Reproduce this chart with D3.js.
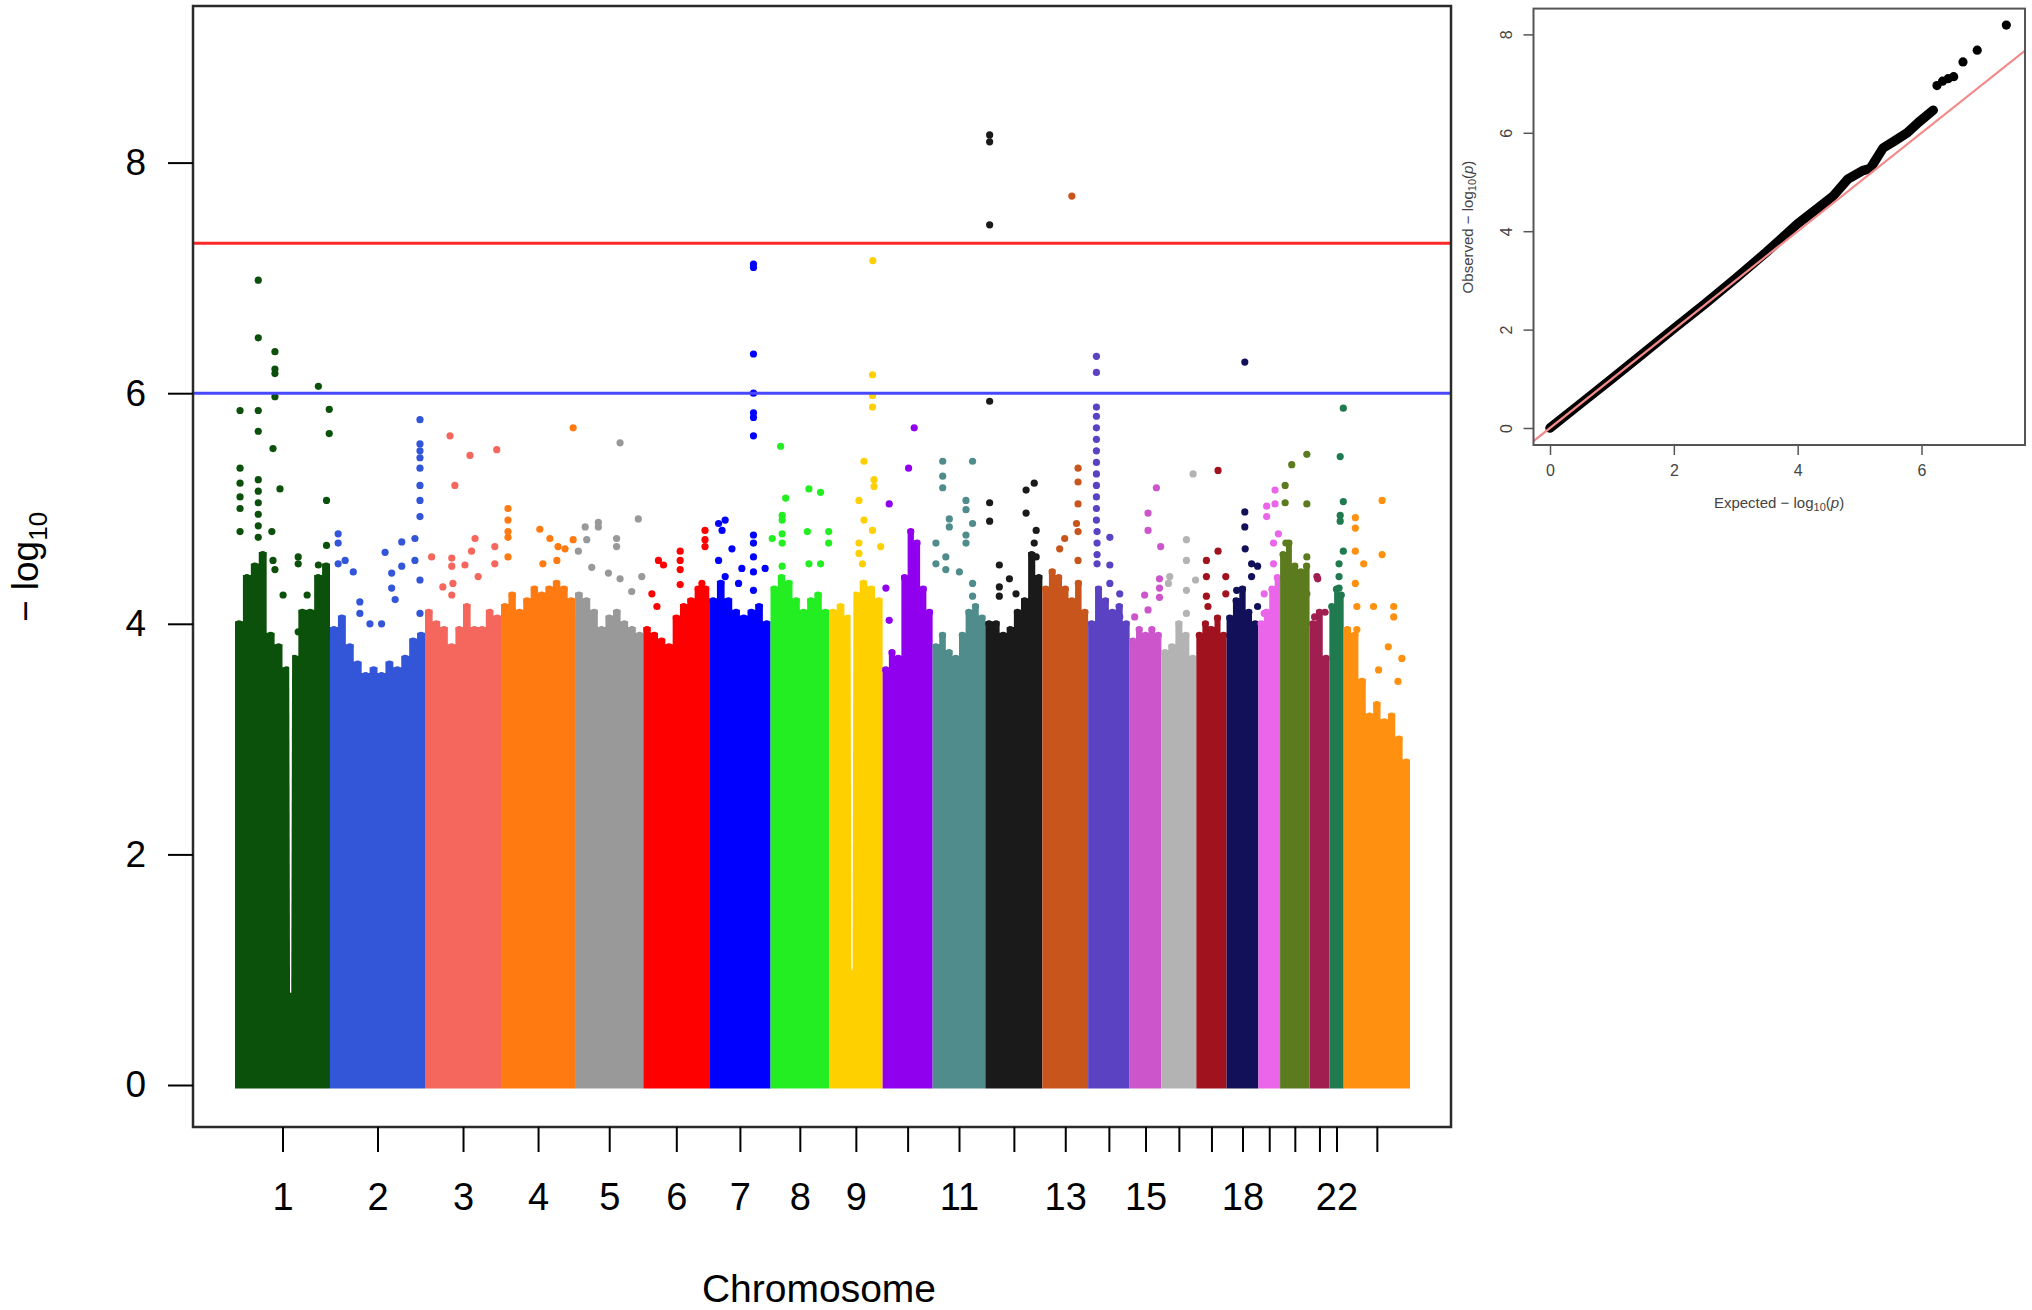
<!DOCTYPE html>
<html>
<head>
<meta charset="utf-8">
<script src="https://cdnjs.cloudflare.com/ajax/libs/d3/7.8.5/d3.min.js"></script>
<style>
  body { margin: 0; background: #fff; }
  svg { display: block; font-family: "Liberation Sans", Arial, sans-serif; }
</style>
</head>
<body>
<div class="chart"></div>
<script>
// chromosomes 1..22 + X (drawn as 23)
var chromNames = ["1","2","3","4","5","6","7","8","9","10","11","12","13","14","15","16","17","18","19","20","21","22","23"];
var chromLabels = ["1","2","3","4","5","6","7","8","9","","11","","13","","15","","","18","","","","22",""];
// plotted span of each chromosome, Mb
var chromSpan = [245,245,196,191,176,170,158,151,138,129,136,147,118,107,82,90,78,82,56,76,51,37,171];
var chromColor = ["#0b500b","#3355d8","#f5665c","#ff7a10","#999999","#ff0000","#0000ff","#22ee22",
                  "#ffd000","#9000ee","#4f8c8b","#1a1a1a","#c8561c","#5a42c2","#cc55cc","#b3b3b3",
                  "#a0121e","#13105a","#ea65ea","#5b7b1e","#a01e50","#207a50","#ff9010"];

// top of the dense band of SNPs, -log10(p), evenly spaced along each chromosome
var bandTop = [
  [4.0,4.4,4.5,4.6,3.9,3.8,3.6,3.7,4.1,4.1,4.4,4.5],
  [3.95,4.05,3.8,3.65,3.55,3.6,3.55,3.65,3.6,3.7,3.85,3.9],
  [4.1,4.0,3.95,3.8,3.95,4.15,3.95,3.95,4.1,4.05],
  [4.15,4.25,4.1,4.2,4.3,4.25,4.3,4.35,4.3,4.2],
  [4.25,4.2,4.1,3.95,4.05,4.1,4.0,3.95,3.9],
  [3.95,3.9,3.85,3.8,4.05,4.15,4.2,4.3,4.3],
  [4.2,4.35,4.2,4.1,4.05,4.1,4.15,4.0],
  [4.3,4.4,4.35,4.2,4.1,4.2,4.25,4.1],
  [4.1,4.15,4.05,4.25,4.35,4.3,4.2],
  [3.6,3.75,3.7,4.4,4.8,4.7,4.3,4.1],
  [3.8,3.9,3.75,3.7,3.9,4.1,4.15,4.05],
  [4.0,4.0,3.9,3.95,4.1,4.2,4.6,4.4],
  [4.3,4.45,4.4,4.3,4.2,4.35,4.1],
  [4.0,4.3,4.2,4.1,4.15,4.0],
  [3.85,3.95,3.9,3.95,3.9],
  [3.75,3.8,4.0,3.9,3.7],
  [3.9,4.0,3.95,4.05,3.9],
  [4.05,4.2,4.3,4.1,4.0],
  [4.0,4.1,4.3,4.4],
  [4.6,4.7,4.5,4.45,4.5],
  [4.0,4.1,3.7],
  [4.15,4.3,4.25],
  [3.95,3.9,3.5,3.2,3.3,3.15,3.2,3.0,2.8]
];

// centromere gaps without SNPs: [chromosome, start Mb, end Mb, lowest -log10(p) reached]
var bandGaps = [[1,139,148,0.8],[9,55,63,1.0]];

// SNPs standing out of the band: [chromosome, position in Mb, -log10(p)]
var topSnps = [
  [1,60,6.98],[1,60,6.48],[1,103,6.36],[1,103,6.21],[1,103,6.17],[1,103,5.97],[1,215,6.06],[1,13,5.85],
  [1,60,5.85],[1,243,5.86],[1,60,5.67],[1,243,5.65],[1,98,5.52],[1,13,5.35],[1,116,5.17],[1,236,5.07],
  [1,13,5.22],[1,13,5.1],[1,13,5.0],[1,60,5.25],[1,60,5.15],[1,60,5.05],[1,60,4.95],[1,60,4.85],[1,60,4.75],
  [1,13,4.8],[1,95,4.8],[1,236,4.68],[1,163,4.58],[1,163,4.52],[1,215,4.51],[1,98,4.55],[1,103,4.47],
  [1,124,4.25],[1,186,4.25],[1,215,4.23],[1,163,3.93],
  [2,21,4.78],[2,21,4.7],[2,21,4.52],[2,39,4.55],[2,60,4.45],[2,77,4.19],[2,77,4.09],[2,142,4.62],
  [2,185,4.71],[2,185,4.5],[2,159,4.44],[2,159,4.31],[2,168,4.21],[2,219,4.74],[2,219,4.55],[2,232,5.77],
  [2,232,5.56],[2,232,5.5],[2,232,5.44],[2,232,5.35],[2,232,5.2],[2,232,5.07],[2,232,4.93],[2,232,4.38],
  [2,232,4.09],[2,103,4.0],[2,133,4.0],
  [3,64.5,5.63],[3,116,5.46],[3,185,5.51],[3,77,5.2],[3,129,4.74],[3,17,4.58],[3,69,4.57],[3,69,4.5],
  [3,120,4.63],[3,103,4.51],[3,180,4.67],[3,180,4.52],[3,46,4.32],[3,72,4.35],[3,69,4.25],[3,137,4.41],
  [4,18,5.0],[4,18,4.9],[4,18,4.8],[4,18,4.75],[4,18,4.58],[4,186,5.70],[4,100,4.82],[4,126,4.74],
  [4,147,4.67],[4,186,4.73],[4,165,4.65],[4,144,4.55],[4,108,4.52],
  [5,116,5.57],[5,26,4.84],[5,60,4.88],[5,60,4.84],[5,163,4.91],[5,30,4.73],[5,107,4.74],[5,107,4.67],
  [5,43,4.49],[5,86,4.44],[5,116,4.39],[5,172,4.41],[5,8.5,4.63],[5,146,4.28],
  [6,159,4.81],[6,159,4.73],[6,159,4.67],[6,95,4.63],[6,95,4.55],[6,95,4.47],[6,95,4.34],[6,39,4.55],
  [6,52,4.51],[6,151,4.35],[6,22,4.26],[6,35,4.15],
  [7,114,7.12],[7,114,7.09],[7,114,6.34],[7,114,6.0],[7,114,5.83],[7,114,5.79],[7,114,5.63],[7,41,4.9],
  [7,24,4.87],[7,33,4.81],[7,58.5,4.65],[7,114,4.77],[7,114,4.7],[7,114,4.58],[7,114,4.45],[7,114,4.29],
  [7,84,4.48],[7,144,4.48],[7,24,4.55],[7,41,4.41],[7,75.5,4.35],
  [8,26,5.54],[8,99,5.17],[8,129,5.14],[8,39,5.09],[8,30,4.94],[8,30,4.9],[8,30,4.78],[8,30,4.7],
  [8,95,4.8],[8,99,4.52],[8,4.4,4.74],[8,30,4.5],[8,129,4.52],[8,150,4.8],[8,150,4.7],
  [9,112.7,7.15],[9,112,6.16],[9,112,5.98],[9,112,5.88],[9,90,5.41],[9,116,5.25],[9,116,5.19],[9,77,5.07],
  [9,90,4.9],[9,112,4.81],[9,77,4.7],[9,77,4.61],[9,133,4.67],[9,86,4.52],
  [10,81.5,5.70],[10,67,5.35],[10,17,5.04],[10,8.5,4.31],[10,17,4.03],
  [11,26,5.41],[11,103,5.41],[11,26,5.28],[11,26,5.18],[11,86,5.07],[11,86,4.99],[11,103,4.87],[11,43,4.91],
  [11,43,4.84],[11,8.5,4.7],[11,86,4.77],[11,86,4.7],[11,8.5,4.52],[11,34,4.58],[11,34,4.47],[11,69,4.45],
  [11,103,4.35],[11,103,4.24],
  [12,11,8.24],[12,11,8.18],[12,11,7.46],[12,11,5.93],[12,11,5.05],[12,11,4.89],[12,126,5.22],[12,105,5.16],
  [12,105,4.96],[12,131,4.81],[12,131,4.58],[12,126,4.7],[12,36,4.51],[12,62,4.39],[12,36,4.32],[12,36,4.24],
  [12,79,4.26],
  [13,76,7.71],[13,92,5.35],[13,92,5.23],[13,92,5.04],[13,88,4.87],[13,57.5,4.74],[13,92,4.8],[13,92,4.55],
  [13,44.6,4.65],
  [14,21.4,6.32],[14,21.4,6.18],[14,21.4,5.88],[14,21.4,5.8],[14,21.4,5.7],[14,21.4,5.6],[14,21.4,5.5],
  [14,21.4,5.4],[14,21.4,5.3],[14,21.4,5.2],[14,21.4,5.1],[14,21.4,5.0],[14,21.4,4.9],[14,23,4.8],[14,23,4.7],
  [14,23,4.6],[14,23,4.52],[14,56,4.75],[14,56,4.51],[14,56,4.35],[14,81.5,4.26],[14,81.5,4.06],
  [15,69,5.18],[15,47.5,4.96],[15,47.5,4.81],[15,80,4.67],[15,77,4.39],[15,77,4.31],[15,38.7,4.25],
  [15,47.5,4.12],[15,13,4.06],[15,77,4.23],
  [16,81.7,5.30],[16,64.5,4.73],[16,64.5,4.55],[16,21.4,4.41],[16,18,4.35],[16,64.5,4.29],[16,64.5,4.09],
  [16,88,4.38],
  [17,56,5.33],[17,56,4.63],[17,26,4.55],[17,26,4.41],[17,26,4.24],[17,76,4.41],[17,76,4.26],[17,30,4.15],
  [17,30,3.95],
  [18,47,6.27],[18,47,4.97],[18,47,4.84],[18,48,4.65],[18,64.5,4.52],[18,64.5,4.41],[18,80,4.5],[18,26,4.29],
  [18,80,4.15],
  [19,43,5.16],[19,43,5.04],[19,21.4,5.02],[19,21.4,4.93],[19,51.6,4.78],[19,39,4.7],[19,39,4.52],
  [19,15,4.26],[19,15,4.09],
  [20,69,5.47],[20,30,5.38],[20,13,5.2],[20,13,5.05],[20,69,5.04],[20,15,4.7],[20,15,4.52],[20,69,4.58],
  [20,69,4.26],[20,43,4.26],
  [21,19,4.41],[21,21,4.39],[21,40,4.1],[21,13,4.06],
  [22,36,5.87],[22,28,5.45],[22,36,5.06],[22,28,4.94],[22,28,4.89],[22,36,4.63],[22,25,4.52],[22,25,4.41],
  [22,25,4.31],
  [23,99,5.07],[23,30,4.92],[23,30,4.83],[23,99,4.6],[23,30,4.63],[23,30,4.35],[23,51.6,4.52],[23,77,4.15],
  [23,129,4.15],[23,129,4.06],[23,34,4.15],[23,34,3.95],[23,115,3.8],[23,150,3.7],[23,140,3.5],[23,90,3.6]
];

var genomeWideLine = 7.3;
var suggestiveLine = 6;
var yTicks = [0, 2, 4, 6, 8];

// QQ plot: dense body of the curve and the separate tail points
var qqExpected = [0,0.5,1,1.5,2,2.5,3,3.5,4,4.39,4.57,4.81,5.05,5.17,5.38,5.56,5.77,5.95,6.19];
var qqObserved = [0,0.5,1.0,1.51,2.02,2.52,3.04,3.58,4.15,4.53,4.71,5.06,5.23,5.27,5.69,5.83,6.0,6.21,6.46];
var qqTailExpected = [6.25,6.34,6.43,6.52,6.67,6.9,7.37];
var qqTailObserved = [6.96,7.05,7.1,7.14,7.44,7.68,8.19];
var qqXTicks = [0, 2, 4, 6];
var qqYTicks = [0, 2, 4, 6, 8];

var svg = d3.select(".chart").append("svg")
    .attr("width", 2032)
    .attr("height", 1310);

// ---------- Manhattan plot ----------
var starts = [];
var acc = 0;
chromSpan.forEach(function (s) { starts.push(acc); acc += s; });
var total = acc;
var mids = chromSpan.map(function (s, i) { return starts[i] + s / 2; });

var x = d3.scaleLinear().domain([0, total]).range([235, 1410]);
var y = d3.scaleLinear().domain([0, 8]).range([1085, 162.6]);
var r = 3.6;

var band = d3.area()
    .curve(d3.curveStep)
    .x(function (d) { return x(d.pos); })
    .y0(y(0) + r)
    .y1(function (d) { return y(d.v) - r + 1; });

bandTop.forEach(function (vals, i) {
    var n = vals.length, step = chromSpan[i] / n;
    var pts = vals.map(function (v, j) { return { pos: starts[i] + (j + 0.5) * step, v: v }; });
    var line = [{ pos: starts[i], v: vals[0] }].concat(pts, [{ pos: starts[i] + chromSpan[i], v: vals[n - 1] }]);
    svg.append("path")
        .datum(line)
        .attr("d", band)
        .attr("fill", chromColor[i]);
    svg.selectAll(null)
        .data(pts)
        .enter()
        .append("circle")
        .attr("cx", function (d) { return x(d.pos); })
        .attr("cy", function (d) { return y(d.v); })
        .attr("r", r)
        .attr("fill", chromColor[i]);
});

// narrow white gaps (tapering towards the bottom)
svg.selectAll("path.gap")
    .data(bandGaps)
    .enter()
    .append("path")
    .attr("class", "gap")
    .attr("fill", "#fff")
    .attr("d", function (d) {
        var s = starts[d[0] - 1];
        var x0 = x(s + d[1]), x1 = x(s + d[2]), xm = (x0 + x1) / 2;
        var top = y(4.8), low = y(d[3]);
        return "M" + x0 + "," + top + "L" + x1 + "," + top + "L" + (xm + 0.6) + "," + low +
               "L" + (xm - 0.6) + "," + low + "Z";
    });

svg.selectAll("circle.snp")
    .data(topSnps)
    .enter()
    .append("circle")
    .attr("class", "snp")
    .attr("cx", function (d) { return x(starts[d[0] - 1] + d[1]); })
    .attr("cy", function (d) { return y(d[2]); })
    .attr("r", r)
    .attr("fill", function (d) { return chromColor[d[0] - 1]; });

// threshold lines across the whole panel
svg.append("line")
    .attr("x1", 193).attr("x2", 1451)
    .attr("y1", y(genomeWideLine)).attr("y2", y(genomeWideLine))
    .attr("stroke", "#ff2828").attr("stroke-width", 3);
svg.append("line")
    .attr("x1", 193).attr("x2", 1451)
    .attr("y1", y(suggestiveLine)).attr("y2", y(suggestiveLine))
    .attr("stroke", "#4848ff").attr("stroke-width", 3);

// frame
svg.append("rect")
    .attr("x", 193).attr("y", 6)
    .attr("width", 1451 - 193).attr("height", 1127 - 6)
    .attr("fill", "none").attr("stroke", "#2a2a2a").attr("stroke-width", 2.5);

var yAxis = svg.append("g")
    .attr("transform", "translate(193,0)")
    .call(d3.axisLeft(y).tickValues(yTicks).tickSize(25).tickPadding(22).tickFormat(d3.format("d")));
yAxis.select(".domain").remove();
yAxis.selectAll("line").attr("stroke", "#000").attr("stroke-width", 2);
yAxis.selectAll("text").attr("font-size", 37).attr("fill", "#000")
    .attr("font-family", "'Liberation Sans', Arial, sans-serif");

var xAxis = svg.append("g")
    .attr("transform", "translate(0,1127)")
    .call(d3.axisBottom(x).tickValues(mids).tickSize(25).tickPadding(31)
        .tickFormat(function (d, i) { return chromLabels[i]; }));
xAxis.select(".domain").remove();
xAxis.selectAll("line").attr("stroke", "#000").attr("stroke-width", 2);
xAxis.selectAll("text").attr("font-size", 38).attr("fill", "#000")
    .attr("font-family", "'Liberation Sans', Arial, sans-serif");

svg.append("text")
    .attr("x", 819).attr("y", 1302)
    .attr("text-anchor", "middle")
    .attr("font-size", 39)
    .text("Chromosome");

var yTitle = svg.append("text")
    .attr("transform", "translate(38,567) rotate(-90)")
    .attr("text-anchor", "middle")
    .attr("font-size", 37);
yTitle.append("tspan").text("\u2212 log");
yTitle.append("tspan").attr("font-size", 26).attr("dy", 9).text("10");

// ---------- QQ plot ----------
var qx = d3.scaleLinear().domain([0, 6]).range([1550, 1921.5]);
var qy = d3.scaleLinear().domain([0, 8]).range([428, 34.4]);
var qFrame = { left: 1533.5, right: 2025, top: 8.6, bottom: 445 };

svg.append("clipPath").attr("id", "qqclip")
    .append("rect")
    .attr("x", qFrame.left).attr("y", qFrame.top)
    .attr("width", qFrame.right - qFrame.left).attr("height", qFrame.bottom - qFrame.top);

var qqBody = qqExpected.map(function (e, i) { return [e, qqObserved[i]]; });
svg.append("path")
    .datum(qqBody)
    .attr("d", d3.line().x(function (d) { return qx(d[0]); }).y(function (d) { return qy(d[1]); }))
    .attr("fill", "none")
    .attr("stroke", "#000")
    .attr("stroke-width", 9.5)
    .attr("stroke-linecap", "round")
    .attr("stroke-linejoin", "round");

svg.selectAll("circle.qq")
    .data(qqTailExpected.map(function (e, i) { return [e, qqTailObserved[i]]; }))
    .enter()
    .append("circle")
    .attr("class", "qq")
    .attr("cx", function (d) { return qx(d[0]); })
    .attr("cy", function (d) { return qy(d[1]); })
    .attr("r", 4.6)
    .attr("fill", "#000");

svg.append("line")
    .attr("clip-path", "url(#qqclip)")
    .attr("x1", qx(-1)).attr("y1", qy(-1))
    .attr("x2", qx(9)).attr("y2", qy(9))
    .attr("stroke", "#f28a8a").attr("stroke-width", 2.2);

svg.append("rect")
    .attr("x", qFrame.left).attr("y", qFrame.top)
    .attr("width", qFrame.right - qFrame.left).attr("height", qFrame.bottom - qFrame.top)
    .attr("fill", "none").attr("stroke", "#555").attr("stroke-width", 2);

var qxAxis = svg.append("g")
    .attr("transform", "translate(0," + qFrame.bottom + ")")
    .call(d3.axisBottom(qx).tickValues(qqXTicks).tickSize(10).tickPadding(10).tickFormat(d3.format("d")));
qxAxis.select(".domain").remove();
qxAxis.selectAll("line").attr("stroke", "#555").attr("stroke-width", 1.5);
qxAxis.selectAll("text").attr("font-size", 16).attr("fill", "#444")
    .attr("font-family", "'Liberation Sans', Arial, sans-serif");

var qyAxis = svg.append("g")
    .attr("transform", "translate(" + qFrame.left + ",0)")
    .call(d3.axisLeft(qy).tickValues(qqYTicks).tickSize(10).tickFormat(d3.format("d")));
qyAxis.select(".domain").remove();
qyAxis.selectAll("line").attr("stroke", "#555").attr("stroke-width", 1.5);
qyAxis.selectAll("text")
    .attr("x", 0).attr("dy", 0)
    .attr("transform", "translate(-22,0) rotate(-90)")
    .attr("text-anchor", "middle")
    .attr("font-size", 16).attr("fill", "#444")
    .attr("font-family", "'Liberation Sans', Arial, sans-serif");

var qxTitle = svg.append("text")
    .attr("x", 1779).attr("y", 508)
    .attr("text-anchor", "middle")
    .attr("font-size", 15).attr("fill", "#444");
qxTitle.append("tspan").text("Expected \u2212 log");
qxTitle.append("tspan").attr("font-size", 11).attr("dy", 3).text("10");
qxTitle.append("tspan").attr("dy", -3).text("(");
qxTitle.append("tspan").attr("font-style", "italic").text("p");
qxTitle.append("tspan").text(")");

var qyTitle = svg.append("text")
    .attr("transform", "translate(1473,227) rotate(-90)")
    .attr("text-anchor", "middle")
    .attr("font-size", 15).attr("fill", "#444");
qyTitle.append("tspan").text("Observed \u2212 log");
qyTitle.append("tspan").attr("font-size", 11).attr("dy", 3).text("10");
qyTitle.append("tspan").attr("dy", -3).text("(");
qyTitle.append("tspan").attr("font-style", "italic").text("p");
qyTitle.append("tspan").text(")");
</script>
</body>
</html>
